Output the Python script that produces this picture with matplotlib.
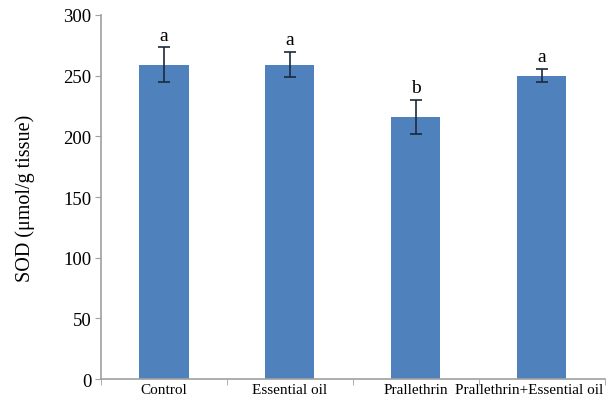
import matplotlib
matplotlib.use("Agg")
import matplotlib.pyplot as plt
import matplotlib.transforms as mtransforms
import numpy as np

# data
groups = ["Control", "Essential oil", "Prallethrin", "Prallethrin+Essential oil"]
sod = [259, 259, 216, 250]
sod_err = [14.5, 10.5, 14, 5.5]
letters = ["a", "a", "b", "a"]

plt.rcParams['font.family'] = ['Liberation Serif', 'DejaVu Serif']

fig = plt.figure(figsize=(6.14, 4.02), dpi=100)
ax = fig.add_axes([0.1645, 0.0547, 0.8205, 0.9055])

x = np.arange(len(groups))
ax.bar(x, sod, width=0.39, color='#4f81bd', zorder=2)
ax.errorbar(x, sod, yerr=sod_err, fmt='none', ecolor='#1a2a40', elinewidth=1.2,
            capsize=4, capthick=1.2, zorder=3)

for xi, v, e, lt in zip(x, sod, sod_err, letters):
    ax.text(xi, v + e + 3, lt, ha='center', va='bottom', fontsize=14)

ax.set_xlim(-0.5, 3.5)
ax.set_ylim(0, 300)
ax.set_yticks(np.arange(0, 301, 50))
ax.tick_params(axis='y', labelsize=13.5, color='#a0a0a0', length=4, pad=3)

# category labels centred, ticks at the boundaries
ax.set_xticks(x)
ax.set_xticklabels(groups, fontsize=11)
ax.tick_params(axis='x', which='major', length=0, pad=3)
ax.set_xticks(np.arange(-0.5, 4, 1), minor=True)
ax.tick_params(axis='x', which='minor', length=4, color='#a0a0a0')

# last label is pushed left so it stays inside the figure
last = ax.get_xticklabels()[-1]
last.set_transform(last.get_transform() +
                   mtransforms.ScaledTranslation(-13/100, 0, fig.dpi_scale_trans))

for s in ['top', 'right']:
    ax.spines[s].set_visible(False)
for s in ['left', 'bottom']:
    ax.spines[s].set_color('#a0a0a0')
    ax.spines[s].set_linewidth(1.2)

ax.set_ylabel("SOD (μmol/g tissue)", fontsize=14.5, labelpad=20)

fig.savefig("out.png", dpi=100)
